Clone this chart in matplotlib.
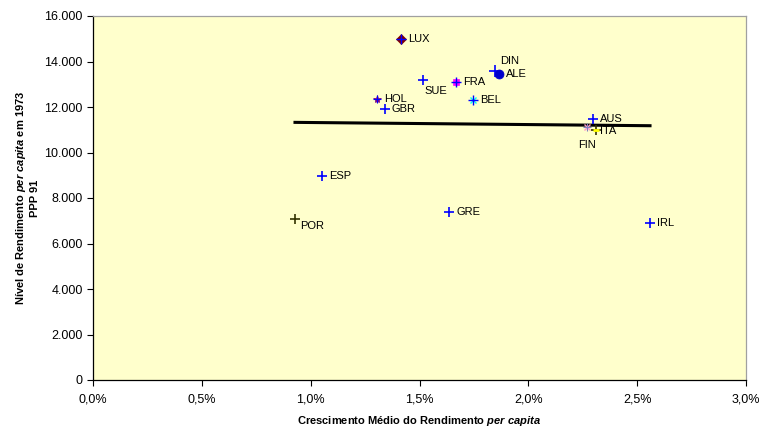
import numpy as np
import matplotlib
matplotlib.use("Agg")
import matplotlib.pyplot as plt
from matplotlib.ticker import FuncFormatter, MultipleLocator

plt.rcParams['font.family'] = ['Liberation Sans', 'DejaVu Sans']
plt.rcParams['mathtext.fontset'] = 'custom'
plt.rcParams['mathtext.rm'] = 'Liberation Sans:bold'
plt.rcParams['mathtext.it'] = 'Liberation Sans:italic:bold'
plt.rcParams['mathtext.bf'] = 'Liberation Sans:bold'

# Average growth of per-capita income (%) and 1973 per-capita income level (PPP 91)
countries = ["LUX", "DIN", "ALE", "SUE", "FRA", "HOL", "GBR", "BEL",
             "AUS", "ITA", "FIN", "ESP", "POR", "GRE", "IRL"]
growth = [1.415, 1.847, 1.865, 1.516, 1.668, 1.305, 1.341, 1.746,
          2.297, 2.311, 2.270, 1.052, 0.928, 1.636, 2.559]
income_1973 = [14990, 13580, 13450, 13190, 13100, 12350, 11910, 12310,
               11470, 10990, 11120, 8970, 7080, 7390, 6900]

# marker style per country: list of (marker, color, size, edge width)
styles = {
    "LUX": [("D", "#800000", 5, 0.5), ("+", "#0000FF", 7, 1.0)],
    "DIN": [("+", "#0000FF", 8, 1.2)],
    "ALE": [("o", "#0000CC", 6.5, 0.5)],
    "SUE": [("+", "#0000FF", 7, 1.2)],
    "FRA": [("s", "#FF00FF", 5, 0.5), ("+", "#0000FF", 7, 1.0)],
    "HOL": [("*", "#800080", 6, 0.5), ("+", "#0000FF", 6, 0.8)],
    "GBR": [("+", "#0000FF", 7, 1.2)],
    "BEL": [("x", "#00FFFF", 5, 1.0), ("+", "#0000FF", 7, 1.0)],
    "AUS": [("+", "#0000FF", 7, 1.2)],
    "ITA": [("+", "#333300", 7, 1.2), ("_", "#FFFF00", 4, 2.0)],
    "FIN": [("x", "#FF99CC", 5, 1.0), ("+", "#8080C0", 6, 0.8)],
    "ESP": [("+", "#0000FF", 7, 1.2)],
    "POR": [("+", "#333300", 7, 1.2)],
    "GRE": [("+", "#0000FF", 7, 1.2)],
    "IRL": [("+", "#0000FF", 7, 1.2)],
}

# label offsets in points and alignment
label_pos = {
    "DIN": ((4, 7), "left", "center"),
    "SUE": ((1, -8), "left", "center"),
    "FIN": ((0, -13), "center", "center"),
    "POR": ((4, -5), "left", "center"),
    "ITA": ((3, -1), "left", "center"),
}

fig = plt.figure(figsize=(7.6, 4.32), dpi=100)
ax = fig.add_axes([93/760, 52/432, 653/760, 364/432])
ax.set_facecolor("#FFFFCC")

for c, gx, gy in zip(countries, growth, income_1973):
    for m, col, s, lw in styles[c]:
        if m in ("+", "x", "_"):
            ax.plot(gx, gy, marker=m, color=col, markersize=s, markeredgewidth=lw,
                    linestyle="none", zorder=4)
        else:
            ax.plot(gx, gy, marker=m, color=col, markersize=s, markeredgecolor=col,
                    markeredgewidth=lw, linestyle="none", zorder=4)
    off, ha, va = label_pos.get(c, ((5, 0), "left", "center"))
    ax.annotate(c, (gx, gy), xytext=off, textcoords="offset points",
                ha=ha, va=va, fontsize=8, color="black", zorder=5)

# linear trend over the observed range
g = np.array(growth)
y = np.array(income_1973)
slope, intercept = np.polyfit(g, y, 1)
xs = np.array([g.min(), g.max()])
ax.plot(xs, slope * xs + intercept, color="black", linewidth=2.2, zorder=3)

ax.set_xlim(0, 3.0)
ax.set_ylim(0, 16000)
ax.xaxis.set_major_locator(MultipleLocator(0.5))
ax.yaxis.set_major_locator(MultipleLocator(2000))
ax.xaxis.set_major_formatter(FuncFormatter(lambda v, p: f"{v:.1f}%".replace(".", ",")))
ax.yaxis.set_major_formatter(FuncFormatter(lambda v, p: f"{int(v):,}".replace(",", ".")))
ax.tick_params(axis="both", direction="out", length=4, width=0.8, labelsize=9,
               colors="black")
ax.tick_params(axis="x", pad=6)

for side in ("left", "bottom"):
    ax.spines[side].set_color("black")
    ax.spines[side].set_linewidth(0.9)
for side in ("top", "right"):
    ax.spines[side].set_color("#A0A0A0")
    ax.spines[side].set_linewidth(0.9)

ax.set_xlabel(r"Crescimento Médio do Rendimento $\mathit{per\ capita}$",
              fontsize=8, fontweight="bold", labelpad=6)
ax.set_ylabel("Nível de Rendimento $\\mathit{per\\ capita}$ em 1973\nPPP 91",
              fontsize=8, fontweight="bold", labelpad=3, linespacing=1.25)

fig.savefig("out.png", dpi=100, facecolor="white")
